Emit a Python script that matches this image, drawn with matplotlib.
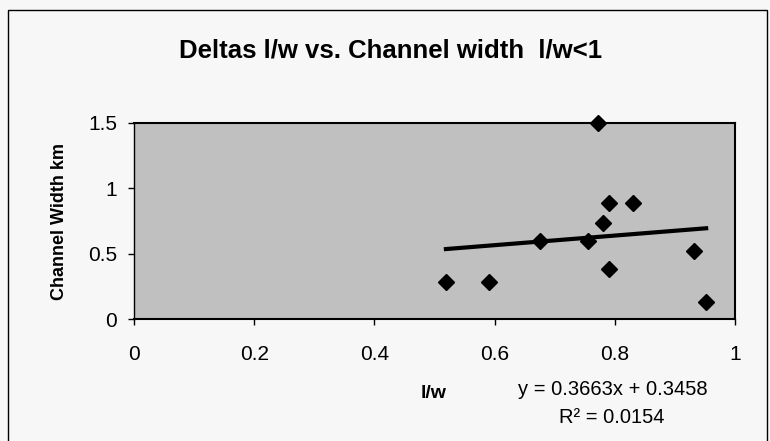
import numpy as np
import matplotlib.pyplot as plt
from matplotlib.patches import Rectangle

# l/w ratio vs channel width (km)
lw = [0.519, 0.591, 0.675, 0.755, 0.772, 0.781, 0.791, 0.791, 0.831, 0.931, 0.952]
width_km = [0.287, 0.287, 0.598, 0.598, 1.50, 0.733, 0.890, 0.384, 0.890, 0.524, 0.134]

# linear trendline as printed on the chart
slope = 0.3663
intercept = 0.3458
r2 = 0.0154

xticks = [0, 0.2, 0.4, 0.6, 0.8, 1]
yticks = [0, 0.5, 1, 1.5]

plt.rcParams['font.family'] = ['Liberation Sans', 'DejaVu Sans']

fig = plt.figure(figsize=(7.7, 4.41), dpi=100)
fig.patch.set_facecolor('#f7f7f7')

# outer chart border
fig.patches.append(Rectangle((8 / 770, -0.01), 759 / 770, (441 - 10) / 441 + 0.01,
                             transform=fig.transFigure, fill=False,
                             edgecolor='black', linewidth=1.0))

ax = fig.add_axes([134 / 770, (441 - 319.3) / 441, 601 / 770, 196.6 / 441])
ax.set_facecolor('#c0c0c0')

ax.plot(lw, width_km, linestyle='none', marker='D', markersize=8.5,
        color='black', zorder=4, clip_on=False)

xs = np.array([min(lw), max(lw)])
ax.plot(xs, slope * xs + intercept, color='black', linewidth=3, zorder=3)

ax.set_xlim(0, 1)
ax.set_ylim(0, 1.5)
ax.set_xticks(xticks)
ax.set_xticklabels(['0', '0.2', '0.4', '0.6', '0.8', '1'])
ax.set_yticks(yticks)
ax.set_yticklabels(['0', '0.5', '1', '1.5'])
ax.tick_params(direction='out', length=4.3, width=1, labelsize=15)
ax.tick_params(axis='x', pad=14)
ax.tick_params(axis='y', pad=8)
for s in ax.spines.values():
    s.set_linewidth(1.5)
    s.set_color('black')
ax.spines['left'].set_linewidth(1.0)

fig.text(391 / 770, 1 - 58 / 441, 'Deltas l/w vs. Channel width  l/w<1',
         ha='center', va='baseline', fontsize=18.5, fontweight='bold')
fig.text(60 / 770, 1 - 222 / 441, 'Channel Width km', rotation=90,
         ha='center', va='center', fontsize=13, fontweight='bold')
fig.text(434 / 770, 1 - 398 / 441, 'l/w', ha='center', va='baseline',
         fontsize=14, fontweight='bold')
fig.text(613 / 770, 1 - 395 / 441, 'y = %.4fx + %.4f' % (slope, intercept),
         ha='center', va='baseline', fontsize=14.5)
fig.text(612 / 770, 1 - 423 / 441, 'R\u00b2 = %.4f' % r2,
         ha='center', va='baseline', fontsize=14.5)

plt.savefig('out.png', dpi=100, facecolor=fig.get_facecolor())
